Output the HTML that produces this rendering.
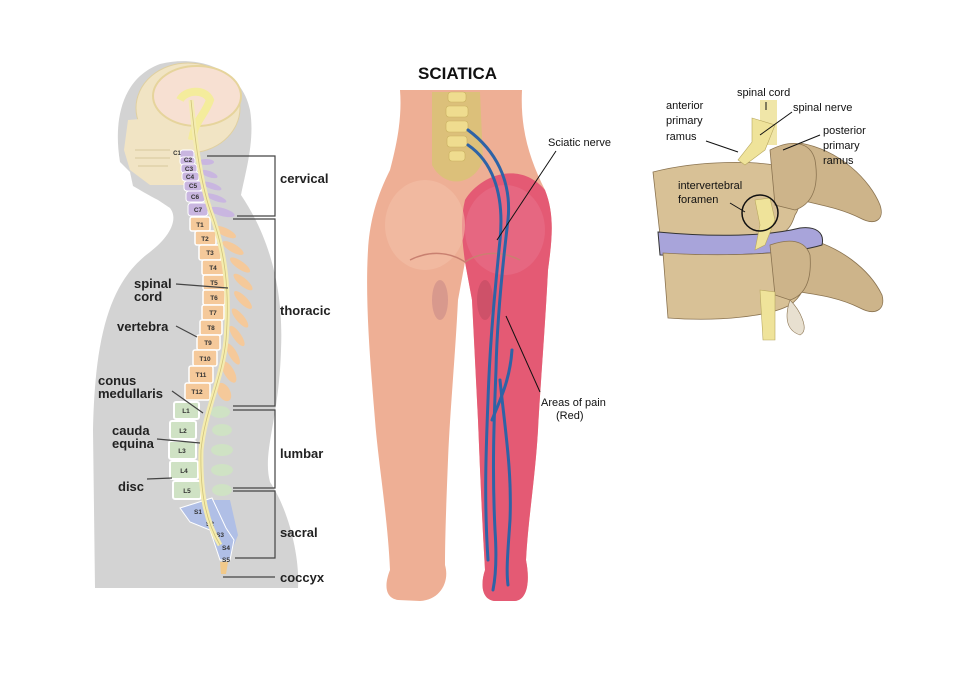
<!DOCTYPE html>
<html><head><meta charset="utf-8"><style>
html,body{margin:0;padding:0;background:#fff;}
svg{display:block;font-family:"Liberation Sans",sans-serif;}
</style></head><body>
<svg width="958" height="695" viewBox="0 0 958 695" xmlns="http://www.w3.org/2000/svg">
<rect width="958" height="695" fill="#fff"/>
<!-- LEFT: silhouette -->
<path d="M95,588 L93,430 C95,330 112,280 150,252 C172,235 178,218 170,208 L158,200 C148,195 140,190 133,186 L130,172 L120,162 C113,120 122,78 160,64 C200,54 242,70 250,110 C255,140 246,170 241,195 C266,232 284,282 281,350 C279,420 262,452 270,482 C290,512 300,560 298,588 Z" fill="#d3d3d3"/>
<ellipse cx="188" cy="108" rx="52" ry="45" fill="#f1e4c4" stroke="#e0d0a0"/>
<path d="M128,120 L190,115 L195,185 L150,185 L130,170 L124,150 Z" fill="#f1e4c4"/>
<ellipse cx="197" cy="96" rx="44" ry="30" fill="#f7e0d2" stroke="#e6d49c" stroke-width="2"/>
<path d="M180,100 C185,90 205,88 210,100 C205,115 195,120 192,140" fill="none" stroke="#f4ec9c" stroke-width="8"/>
<g stroke="#d8c89c" stroke-width="1" fill="none"><path d="M135,150 L170,150 M135,158 L170,158 M138,166 L168,166"/></g>
<!-- processes -->
<g fill="#f5c99a">
<ellipse cx="225" cy="232" rx="12" ry="4" transform="rotate(25 225 232)"/>
<ellipse cx="233" cy="248" rx="12" ry="4" transform="rotate(30 233 248)"/>
<ellipse cx="240" cy="265" rx="12" ry="4" transform="rotate(35 240 265)"/>
<ellipse cx="243" cy="282" rx="12" ry="4" transform="rotate(40 243 282)"/>
<ellipse cx="243" cy="300" rx="12" ry="4" transform="rotate(45 243 300)"/>
<ellipse cx="240" cy="318" rx="12" ry="4" transform="rotate(50 240 318)"/>
<ellipse cx="237" cy="336" rx="12" ry="4" transform="rotate(55 237 336)"/>
<ellipse cx="233" cy="354" rx="12" ry="4" transform="rotate(60 233 354)"/>
<ellipse cx="229" cy="372" rx="12" ry="5" transform="rotate(60 229 372)"/>
<ellipse cx="224" cy="392" rx="10" ry="6" transform="rotate(60 224 392)"/>
</g>
<g fill="#c9b6e0">
<ellipse cx="206" cy="162" rx="8" ry="3"/><ellipse cx="209" cy="174" rx="9" ry="3" transform="rotate(20 209 174)"/><ellipse cx="212" cy="186" rx="10" ry="3" transform="rotate(20 212 186)"/><ellipse cx="216" cy="198" rx="11" ry="3" transform="rotate(20 216 198)"/><ellipse cx="222" cy="212" rx="13" ry="4" transform="rotate(15 222 212)"/>
</g>
<g fill="#cfe2c4">
<ellipse cx="220" cy="412" rx="10" ry="6"/><ellipse cx="222" cy="430" rx="10" ry="6"/><ellipse cx="222" cy="450" rx="11" ry="6"/><ellipse cx="222" cy="470" rx="11" ry="6"/><ellipse cx="222" cy="490" rx="10" ry="6"/>
</g>
<path d="M210,500 L230,500 L238,535 L232,550 L222,545 L218,520 Z" fill="#b0bfe6"/>
<!-- vertebral bodies -->
<g font-size="6.5" font-weight="bold" fill="#333" text-anchor="middle">
<g fill="#c9b6e0" stroke="#fff" stroke-width="1">
<rect x="180" y="150" width="14" height="10" rx="3"/>
<rect x="180" y="157" width="15" height="8" rx="3"/>
<rect x="181" y="164" width="16" height="9" rx="3"/>
<rect x="182" y="172" width="17" height="9" rx="3"/>
<rect x="184" y="181" width="18" height="10" rx="3"/>
<rect x="186" y="191" width="19" height="11" rx="3"/>
<rect x="188" y="203" width="20" height="13" rx="3"/>
</g>
<g fill="#f5c99a" stroke="#fff" stroke-width="1.5">
<rect x="190" y="217" width="20" height="14" rx="2"/>
<rect x="195" y="231" width="21" height="14" rx="2"/>
<rect x="199" y="245" width="22" height="15" rx="2"/>
<rect x="202" y="260" width="22" height="15" rx="2"/>
<rect x="203" y="275" width="22" height="15" rx="2"/>
<rect x="203" y="290" width="22" height="15" rx="2"/>
<rect x="202" y="305" width="22" height="15" rx="2"/>
<rect x="200" y="320" width="22" height="15" rx="2"/>
<rect x="197" y="335" width="23" height="15" rx="2"/>
<rect x="193" y="350" width="24" height="16" rx="2"/>
<rect x="189" y="366" width="24" height="17" rx="2"/>
<rect x="185" y="383" width="25" height="17" rx="2"/>
</g>
<g fill="#cfe2c4" stroke="#fff" stroke-width="2">
<rect x="174" y="402" width="25" height="17" rx="2"/>
<rect x="170" y="421" width="26" height="18" rx="2"/>
<rect x="169" y="441" width="27" height="18" rx="2"/>
<rect x="170" y="461" width="28" height="18" rx="2"/>
<rect x="173" y="481" width="28" height="18" rx="2"/>
</g>
<path d="M180,508 L212,498 L226,528 L234,540 L230,560 L220,560 L210,530 L190,522 Z" fill="#b0bfe6" stroke="#fff"/>
<path d="M220,562 L228,562 L226,574 L221,574 Z" fill="#f1c98a"/>
<text x="177" y="155" font-size="6">C1</text><text x="188" y="162">C2</text><text x="189" y="171">C3</text><text x="190" y="179">C4</text><text x="193" y="188">C5</text><text x="195" y="199">C6</text><text x="198" y="212">C7</text>
<text x="200" y="227">T1</text><text x="205" y="241">T2</text><text x="210" y="255">T3</text><text x="213" y="270">T4</text><text x="214" y="285">T5</text><text x="214" y="300">T6</text><text x="213" y="315">T7</text><text x="211" y="330">T8</text><text x="208" y="345">T9</text><text x="205" y="361">T10</text><text x="201" y="377">T11</text><text x="197" y="394">T12</text>
<text x="186" y="413">L1</text><text x="183" y="433">L2</text><text x="182" y="453">L3</text><text x="184" y="473">L4</text><text x="187" y="493">L5</text>
<text x="198" y="514">S1</text><text x="210" y="526">S2</text><text x="220" y="537">S3</text><text x="226" y="550">S4</text><text x="226" y="562">S5</text>
</g>
<path d="M191,100 C195,140 200,180 210,210 C225,250 230,290 226,340 C222,380 205,410 201,450 C200,490 205,520 220,545" fill="none" stroke="#f4ecb0" stroke-width="5"/>
<path d="M191,100 C195,140 200,180 210,210 C225,250 230,290 226,340 C222,380 205,410 201,450 C200,490 205,520 220,545" fill="none" stroke="#cfc27a" stroke-width="0.8"/>
<!-- brackets -->
<g stroke="#444" stroke-width="1.2" fill="none">
<path d="M207,156 H275 V216 H237"/>
<path d="M233,219 H275 V406 H233"/>
<path d="M233,410 H275 V488 H233"/>
<path d="M233,491 H275 V558 H235"/>
<path d="M223,577 H275"/>
<path d="M176,284 L228,288 M176,326 L197,337 M172,391 L203,413 M157,439 L200,443 M147,479 L172,478"/>
</g>
<g font-size="13" font-weight="bold" fill="#222">
<text x="280" y="183">cervical</text><text x="280" y="315">thoracic</text><text x="280" y="458">lumbar</text><text x="280" y="537">sacral</text><text x="280" y="582">coccyx</text>
<text x="134" y="288">spinal</text><text x="134" y="301">cord</text><text x="117" y="331">vertebra</text>
<text x="98" y="385">conus</text><text x="98" y="398">medullaris</text><text x="112" y="435">cauda</text><text x="112" y="448">equina</text><text x="118" y="491">disc</text>
</g>
<!-- MIDDLE -->
<text x="418" y="79" font-size="17" font-weight="bold" fill="#111">SCIATICA</text>
<path d="M400,90 L522,90 C520,130 530,160 545,190 C555,215 552,240 548,270 C545,330 540,390 538,430 C535,480 528,520 526,560 C530,580 528,600 515,601 L495,601 C482,600 480,585 485,570 C482,520 480,470 478,420 L472,300 L465,262 L458,300 C455,360 450,410 448,460 C446,510 445,540 445,565 C450,582 440,600 420,601 L398,600 C385,598 384,585 390,570 C388,520 378,460 375,420 C370,360 365,300 368,250 C370,215 380,190 390,170 C398,140 402,115 400,90 Z" fill="#eeaf95"/>
<path d="M465,200 C480,175 520,160 545,190 C555,215 552,240 548,270 C545,330 540,390 538,430 C535,480 528,520 526,560 C530,580 528,600 515,601 L495,601 C482,600 480,585 485,570 C482,520 480,470 478,420 L472,300 L465,262 C462,240 460,220 465,200 Z" fill="#e45a74"/>
<ellipse cx="505" cy="230" rx="40" ry="45" fill="#e8708a" opacity="0.6"/>
<ellipse cx="425" cy="225" rx="40" ry="45" fill="#f3c0a8" opacity="0.6"/>
<path d="M410,260 C430,250 450,252 465,262 C480,252 500,250 520,260" fill="none" stroke="#c98070" stroke-width="1.5"/>
<ellipse cx="440" cy="300" rx="8" ry="20" fill="#c98a88" opacity="0.6"/>
<ellipse cx="485" cy="300" rx="8" ry="20" fill="#b8485e" opacity="0.5"/>
<path d="M432,92 L480,92 L483,160 C475,185 445,190 432,165 Z" fill="#dcc07a"/>
<g fill="#efdc8f" stroke="#c9b060" stroke-width="0.6">
<rect x="448" y="92" width="18" height="10" rx="3"/><rect x="446" y="106" width="22" height="11" rx="3"/><rect x="446" y="121" width="22" height="11" rx="3"/><rect x="447" y="136" width="20" height="11" rx="3"/><rect x="449" y="151" width="16" height="10" rx="3"/>
</g>
<g fill="none" stroke="#2e63a6" stroke-width="3" stroke-linecap="round">
<path d="M468,130 C495,150 512,180 508,220 C502,270 497,320 496,370 C494,420 492,470 495,530 C497,560 495,580 493,590"/>
<path d="M468,145 C490,160 505,190 500,240 C495,290 490,340 488,400 C486,450 484,500 488,560"/>
<path d="M500,380 C505,430 512,470 510,520 C508,550 506,570 508,585"/>
<path d="M492,420 C500,400 510,380 512,350"/>
</g>
<g stroke="#111" stroke-width="1" fill="none"><path d="M556,151 L497,240"/><path d="M540,392 L506,316"/></g>
<g font-size="11" fill="#111">
<text x="548" y="146">Sciatic nerve</text>
<text x="541" y="406">Areas of pain</text><text x="556" y="419">(Red)</text>
</g>
<!-- RIGHT -->
<rect x="760" y="100" width="17" height="45" fill="#f0e6a8"/>
<path d="M800,143 C840,150 870,180 880,205 C885,220 875,226 860,218 C840,208 820,205 800,200 Z" fill="#cdb48a" stroke="#8a7350" stroke-width="0.8"/>
<path d="M800,237 C840,245 870,270 882,295 C886,310 875,316 860,308 C840,298 820,295 800,292 Z" fill="#cdb48a" stroke="#8a7350" stroke-width="0.8"/>
<path d="M653,172 C700,160 760,160 787,168 C800,175 805,200 795,215 C790,230 785,236 760,238 C720,240 690,238 660,235 Z" fill="#d8c196" stroke="#8a7350" stroke-width="0.8"/>
<path d="M770,150 C790,140 810,140 815,160 C820,190 810,205 795,210 L775,205 Z" fill="#cdb48a" stroke="#8a7350" stroke-width="0.8"/>
<path d="M658,232 C700,236 760,238 800,228 C815,226 825,232 822,245 C790,255 720,256 660,255 Z" fill="#a8a4da" stroke="#333" stroke-width="1"/>
<path d="M663,253 C710,256 770,255 795,250 C810,258 812,290 790,305 C770,316 720,322 668,318 Z" fill="#d8c196" stroke="#8a7350" stroke-width="0.8"/>
<path d="M770,245 C790,238 805,240 810,255 C812,280 805,295 790,300 L775,295 Z" fill="#cdb48a" stroke="#8a7350" stroke-width="0.8"/>
<path d="M790,300 C800,310 810,330 800,335 C785,330 785,315 790,300Z" fill="#e8e0d0" stroke="#8a7350" stroke-width="0.6"/>
<g fill="#efe39a" stroke="#b8a860" stroke-width="0.6">
<path d="M752,118 L775,125 L765,150 L745,165 L738,160 L752,142 Z"/>
<path d="M755,200 L770,198 L775,220 L765,245 L755,250 L760,225 Z"/>
<path d="M760,290 L775,292 L775,340 L763,340 Z"/>
</g>
<circle cx="760" cy="213" r="18" fill="none" stroke="#111" stroke-width="1.5"/>
<g stroke="#111" stroke-width="1" fill="none">
<path d="M766,102 L766,110"/><path d="M792,112 L760,135"/><path d="M706,141 L738,152"/><path d="M820,135 L783,150"/><path d="M730,203 L745,212"/>
</g>
<g font-size="11" fill="#111">
<text x="737" y="96">spinal cord</text><text x="793" y="111">spinal nerve</text>
<text x="666" y="109">anterior</text><text x="666" y="124">primary</text><text x="666" y="140">ramus</text>
<text x="823" y="134">posterior</text><text x="823" y="149">primary</text><text x="823" y="164">ramus</text>
<text x="678" y="189">intervertebral</text><text x="678" y="203">foramen</text>
</g>
</svg>
</body></html>
